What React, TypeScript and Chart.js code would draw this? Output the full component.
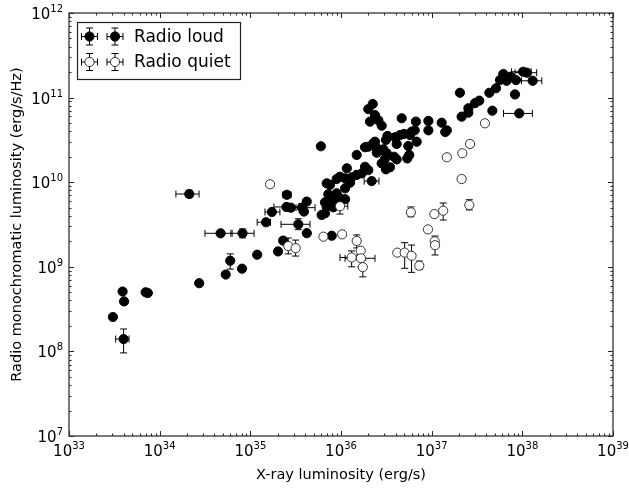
import React, { useEffect, useRef } from 'react';
import { Chart, registerables } from 'chart.js';

Chart.register(...registerables);

// ---------- axis ranges / tick decades ----------
const X_MIN = 1e33;
const X_MAX = 1e39;
const Y_MIN = 1e7;
const Y_MAX = 1e12;
const xDecades = [33, 34, 35, 36, 37, 38, 39];
const yDecades = [7, 8, 9, 10, 11, 12];

const xTitle = 'X-ray luminosity (erg/s)';
const yTitle = 'Radio monochromatic luminosity (erg/s/Hz)';
const seriesNames = ['Radio loud', 'Radio quiet'];

// ---------- Radio loud (points without error bars) ----------
const loudX = [
  3.05e33, 3.9e33, 4.05e33, 7.0e33, 7.4e33, 2.73e34, 5.35e34, 8.1e34, 1.19e35, 2.02e35,
  2.3e35, 2.8e35, 4.19e35, 3.9e35, 4.2e35, 7.9e35, 6.0e35,
  2.24e36, 2.0e36, 2.37e36, 2.09e36, 2.58e36, 2.81e36, 4.67e36, 6.7e36, 6.5e36,
  9.2e36, 9.2e36, 1.29e37, 1.47e37, 1.41e37, 3.25e36, 3.13e36, 3.94e36, 4.48e36, 4.96e36,
  5.77e36, 6.0e36, 4.11e36, 5.52e36, 6.84e36, 2.37e36, 2.27e36, 2.0e36, 1.84e36, 2.43e36,
  2.69e36, 2.93e36, 2.48e36, 3.19e36, 3.84e36, 4.11e36, 5.38e36, 5.66e36, 1.49e36, 3.05e36,
  2.81e36, 3.47e36, 3.13e36, 1.16e36, 1.84e36, 2.0e36, 1.69e36, 1.49e36, 9.75e35, 1.11e36,
  1.31e36, 6.95e35, 7.56e35, 8.95e35, 1.11e36, 1.26e36, 8.95e35, 7.24e35, 6.65e35, 6.12e35,
  6.65e35, 8.22e35, 9.75e35, 1.11e36, 6.95e35, 8.22e35,
  6.17e37, 5.66e37, 6.71e37, 7.43e37, 8.51e37, 8.3e37, 4.67e37, 2.05e37, 4.33e37, 5.12e37,
  3.0e37, 3.35e37, 2.54e37, 2.54e37, 2.14e37,
];
const loudY = [
  2.55e8, 5.1e8, 3.9e8, 5.0e8, 4.9e8, 6.4e8, 8.1e8, 9.5e8, 1.39e9, 1.52e9,
  2.04e9, 5.0e9, 5.9e9, 4.5e9, 2.5e9, 2.33e9, 2.66e10,
  8.4e10, 7.3e10, 6.2e10, 5.2e10, 5.4e10, 4.66e10, 5.7e10, 5.2e10, 4.1e10,
  5.3e10, 4.1e10, 5.05e10, 4.1e10, 3.92e10, 3.52e10, 3.16e10, 3.4e10, 3.61e10, 3.72e10,
  3.61e10, 3.95e10, 2.83e10, 2.68e10, 3.01e10, 3.01e10, 2.88e10, 2.63e10, 2.59e10, 2.59e10,
  2.4e10, 2.45e10, 2.23e10, 2.2e10, 2.0e10, 1.86e10, 1.91e10, 2.1e10, 2.1e10, 1.88e10,
  1.67e10, 1.5e10, 1.42e10, 1.46e10, 1.52e10, 1.39e10, 1.27e10, 1.22e10, 1.16e10, 1.11e10,
  1.14e10, 9.7e9, 9.3e9, 1.09e10, 8.47e9, 9.86e9, 7.4e9, 7.2e9, 5.78e9, 4.1e9,
  4.28e9, 6.17e9, 6.45e9, 6.3e9, 5.13e9, 5.05e9,
  1.9e11, 1.61e11, 1.58e11, 1.77e11, 1.61e11, 1.09e11, 7.0e10, 1.14e11, 1.14e11, 1.29e11,
  8.6e10, 9.2e10, 7.48e10, 6.64e10, 5.95e10,
];

// ---------- Radio loud (points with error bars; 0 = no bar) ----------
const loudErrX = [4.0e33, 6.0e34, 2.12e34, 4.7e34, 8.2e34, 1.49e35, 1.73e35, 2.53e35, 2.5e35, 3.7e35, 3.38e35, 2.18e36, 1.02e38, 1.12e38, 1.3e38, 9.25e37];
const loudErrY = [1.4e8, 1.18e9, 7.25e9, 2.49e9, 2.49e9, 3.36e9, 4.45e9, 7.1e9, 5.1e9, 5.0e9, 3.18e9, 1.03e10, 2.02e11, 1.97e11, 1.58e11, 6.5e10];
const loudErrXLo = [3.27e33, 0, 1.51e34, 3.16e34, 6.1e34, 1.19e35, 1.45e35, 2.29e35, 1.82e35, 3.19e35, 2.18e35, 1.8e36, 7.6e37, 8.3e37, 9.8e37, 6.2e37];
const loudErrXHi = [4.59e33, 0, 2.72e34, 6.3e34, 1.1e35, 1.67e35, 2.12e35, 2.81e35, 3.53e35, 5.17e35, 4.55e35, 2.62e36, 1.25e38, 1.44e38, 1.64e38, 1.29e38];
const loudErrYLo = [9.6e7, 9.4e8, 6.6e9, 0, 2.2e9, 0, 0, 6.5e9, 0, 4.4e9, 2.75e9, 0, 0, 0, 0, 0];
const loudErrYHi = [1.84e8, 1.42e9, 8.0e9, 0, 2.8e9, 0, 0, 7.7e9, 0, 5.6e9, 3.7e9, 0, 0, 0, 0, 0];

// ---------- Radio quiet (points without error bars) ----------
const quietX = [1.65e35, 6.4e35, 1.03e36, 2.14e37, 1.07e37, 9.1e36, 4.18e36, 1.65e36, 3.87e37, 2.18e37, 1.47e37, 1.08e37];
const quietY = [9.45e9, 2.27e9, 2.42e9, 1.09e10, 4.2e9, 2.77e9, 1.47e9, 1.55e9, 4.97e10, 2.2e10, 1.97e10, 2.0e9];

// ---------- Radio quiet (points with error bars; 0 = no bar) ----------
const quietErrX = [2.62e35, 3.16e35, 9.75e35, 2.6e37, 5.9e36, 1.34e37, 1.09e37, 5.04e36, 6.0e36, 7.3e36, 1.49e36, 1.31e36, 1.66e36, 1.74e36, 2.65e37];
const quietErrY = [1.76e9, 1.66e9, 5.2e9, 5.37e9, 4.4e9, 4.6e9, 1.8e9, 1.47e9, 1.35e9, 1.03e9, 2.02e9, 1.29e9, 1.26e9, 0.99e9, 2.83e10];
const quietErrXLo = [0, 0, 8.2e35, 0, 0, 0, 0, 0, 0, 0, 0, 9.75e35, 1.11e36, 0, 0];
const quietErrXHi = [0, 0, 1.19e36, 0, 0, 0, 0, 0, 0, 0, 0, 1.5e36, 2.37e36, 0, 0];
const quietErrYLo = [1.42e9, 1.34e9, 4.2e9, 4.7e9, 3.9e9, 3.57e9, 1.38e9, 9.6e8, 8.6e8, 9.3e8, 1.67e9, 1.0e9, 1.0e9, 7.6e8, 2.61e10];
const quietErrYHi = [2.19e9, 2.07e9, 6.2e9, 6.2e9, 5.1e9, 5.68e9, 2.31e9, 1.93e9, 1.81e9, 1.17e9, 2.38e9, 1.54e9, 1.61e9, 1.2e9, 3.07e10];

const FONT = "'DejaVu Sans', 'Liberation Sans', sans-serif";
const MARKER_R = 4.6;
const CAP = 3.5;

function toPoints(xs: number[], ys: number[]) {
  return xs.map((x, i) => ({ x, y: ys[i] }));
}

const errorSets = [
  { x: loudErrX, y: loudErrY, xlo: loudErrXLo, xhi: loudErrXHi, ylo: loudErrYLo, yhi: loudErrYHi },
  { x: quietErrX, y: quietErrY, xlo: quietErrXLo, xhi: quietErrXHi, ylo: quietErrYLo, yhi: quietErrYHi },
];

function drawErrorBar(ctx: CanvasRenderingContext2D, px: number, py: number, x0: number | null, x1: number | null, y0: number | null, y1: number | null) {
  ctx.beginPath();
  if (x0 !== null && x1 !== null) {
    ctx.moveTo(x0, py); ctx.lineTo(x1, py);
    ctx.moveTo(x0, py - CAP); ctx.lineTo(x0, py + CAP);
    ctx.moveTo(x1, py - CAP); ctx.lineTo(x1, py + CAP);
  }
  if (y0 !== null && y1 !== null) {
    ctx.moveTo(px, y0); ctx.lineTo(px, y1);
    ctx.moveTo(px - CAP, y0); ctx.lineTo(px + CAP, y0);
    ctx.moveTo(px - CAP, y1); ctx.lineTo(px + CAP, y1);
  }
  ctx.stroke();
}

const errorBarPlugin = {
  id: 'errorBars',
  beforeDatasetDraw(chart: any, args: any) {
    const set = errorSets[args.index];
    if (!set) return;
    const ctx = chart.ctx as CanvasRenderingContext2D;
    const xs = chart.scales.x;
    const ys = chart.scales.y;
    ctx.save();
    ctx.strokeStyle = '#000';
    ctx.lineWidth = 1;
    for (let i = 0; i < set.x.length; i++) {
      const px = xs.getPixelForValue(set.x[i]);
      const py = ys.getPixelForValue(set.y[i]);
      const hasX = set.xlo[i] > 0 && set.xhi[i] > 0;
      const hasY = set.ylo[i] > 0 && set.yhi[i] > 0;
      drawErrorBar(
        ctx, px, py,
        hasX ? xs.getPixelForValue(set.xlo[i]) : null,
        hasX ? xs.getPixelForValue(set.xhi[i]) : null,
        hasY ? ys.getPixelForValue(set.ylo[i]) : null,
        hasY ? ys.getPixelForValue(set.yhi[i]) : null,
      );
    }
    ctx.restore();
  },
};

function drawPower(ctx: CanvasRenderingContext2D, exp: number, x: number, baseY: number, align: 'center' | 'right') {
  ctx.font = `15px ${FONT}`;
  const w1 = ctx.measureText('10').width;
  ctx.font = `10px ${FONT}`;
  const w2 = ctx.measureText(String(exp)).width;
  const total = w1 + w2;
  const start = align === 'center' ? x - total / 2 : x - total;
  ctx.textAlign = 'left';
  ctx.textBaseline = 'alphabetic';
  ctx.font = `15px ${FONT}`;
  ctx.fillText('10', start, baseY);
  ctx.font = `10px ${FONT}`;
  ctx.fillText(String(exp), start + w1, baseY - 7);
}

const axesPlugin = {
  id: 'mplAxes',
  afterDatasetsDraw(chart: any) {
    const ctx = chart.ctx as CanvasRenderingContext2D;
    const { left, right, top, bottom } = chart.chartArea;
    const xs = chart.scales.x;
    const ys = chart.scales.y;
    ctx.save();
    ctx.strokeStyle = '#222';
    ctx.lineWidth = 1;
    // ticks (inward, all four sides)
    ctx.beginPath();
    for (let d = xDecades[0]; d <= xDecades[xDecades.length - 1]; d++) {
      for (let k = 1; k <= 9; k++) {
        if (d === xDecades[xDecades.length - 1] && k > 1) break;
        const px = Math.round(xs.getPixelForValue(k * Math.pow(10, d))) + 0.5;
        const len = k === 1 ? 5 : 2.5;
        ctx.moveTo(px, bottom); ctx.lineTo(px, bottom - len);
        ctx.moveTo(px, top); ctx.lineTo(px, top + len);
      }
    }
    for (let d = yDecades[0]; d <= yDecades[yDecades.length - 1]; d++) {
      for (let k = 1; k <= 9; k++) {
        if (d === yDecades[yDecades.length - 1] && k > 1) break;
        const py = Math.round(ys.getPixelForValue(k * Math.pow(10, d))) + 0.5;
        const len = k === 1 ? 5 : 2.5;
        ctx.moveTo(left, py); ctx.lineTo(left + len, py);
        ctx.moveTo(right, py); ctx.lineTo(right - len, py);
      }
    }
    ctx.stroke();
    // frame
    ctx.lineWidth = 1.3;
    ctx.strokeStyle = '#333';
    ctx.strokeRect(left, top, right - left, bottom - top);

    // tick labels
    ctx.fillStyle = '#000';
    xDecades.forEach((d) => {
      const px = xs.getPixelForValue(Math.pow(10, d));
      drawPower(ctx, d, px, bottom + 20, 'center');
    });
    yDecades.forEach((d) => {
      const py = ys.getPixelForValue(Math.pow(10, d));
      drawPower(ctx, d, left - 6, py + 6, 'right');
    });

    // axis titles
    ctx.font = `14.5px ${FONT}`;
    ctx.textAlign = 'center';
    ctx.textBaseline = 'alphabetic';
    ctx.fillText(xTitle, (left + right) / 2, 479);
    ctx.save();
    ctx.translate(20.5, (top + bottom) / 2);
    ctx.rotate(-Math.PI / 2);
    ctx.fillText(yTitle, 0, 0);
    ctx.restore();

    // legend
    const lx0 = 77.5, ly0 = 22.5, lw = 163, lh = 57;
    ctx.fillStyle = '#fff';
    ctx.fillRect(lx0, ly0, lw, lh);
    ctx.strokeStyle = '#222';
    ctx.lineWidth = 1.2;
    ctx.strokeRect(lx0, ly0, lw, lh);
    const rows = [36.5, 62];
    rows.forEach((ry, r) => {
      [89.5, 115].forEach((mx) => {
        ctx.strokeStyle = '#000';
        ctx.lineWidth = 1;
        drawErrorBar(ctx, mx, ry, mx - 8, mx + 8, ry - 8.5, ry + 8.5);
        ctx.beginPath();
        ctx.arc(mx, ry, MARKER_R, 0, Math.PI * 2);
        ctx.fillStyle = r === 0 ? '#000' : '#fff';
        ctx.fill();
        ctx.strokeStyle = r === 0 ? '#000' : '#333';
        ctx.stroke();
      });
      ctx.fillStyle = '#000';
      ctx.font = `17px ${FONT}`;
      ctx.textAlign = 'left';
      ctx.textBaseline = 'middle';
      ctx.fillText(seriesNames[r], 134, ry + 1);
    });
    ctx.restore();
  },
};

export default function App() {
  const canvasRef = useRef<HTMLCanvasElement | null>(null);

  useEffect(() => {
    const canvas = canvasRef.current;
    if (!canvas) return;
    const chart = new Chart(canvas, {
      type: 'scatter',
      data: {
        datasets: [
          {
            label: seriesNames[0],
            data: toPoints(loudX.concat(loudErrX), loudY.concat(loudErrY)),
            backgroundColor: '#000',
            borderColor: '#000',
            borderWidth: 1,
            pointRadius: MARKER_R,
            pointHoverRadius: MARKER_R,
            order: 2,
          },
          {
            label: seriesNames[1],
            data: toPoints(quietX.concat(quietErrX), quietY.concat(quietErrY)),
            backgroundColor: '#fff',
            borderColor: '#333',
            borderWidth: 1,
            pointRadius: MARKER_R,
            pointHoverRadius: MARKER_R,
            order: 1,
          },
        ],
      },
      options: {
        responsive: false,
        animation: false,
        devicePixelRatio: 1,
        layout: { padding: { left: 69, top: 13, right: 16, bottom: 53 } },
        plugins: {
          legend: { display: false },
          tooltip: { enabled: false },
        },
        scales: {
          x: { type: 'logarithmic', min: X_MIN, max: X_MAX, display: false },
          y: { type: 'logarithmic', min: Y_MIN, max: Y_MAX, display: false },
        },
      },
      plugins: [errorBarPlugin, axesPlugin],
    });
    return () => chart.destroy();
  }, []);

  return (
    <div style={{ position: 'fixed', left: 0, top: 0, width: 629, height: 489, background: '#fff' }}>
      <canvas ref={canvasRef} width={629} height={489} style={{ width: 629, height: 489, display: 'block' }} />
    </div>
  );
}
